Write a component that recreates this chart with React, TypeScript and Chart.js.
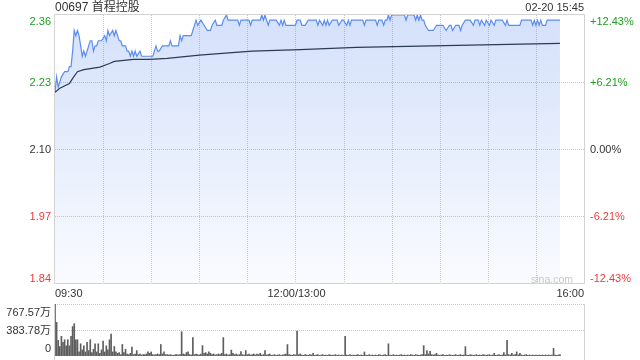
import React, { useEffect, useRef } from 'react';
import { Chart, registerables } from 'chart.js';

Chart.register(...registerables);

const FONT = '"Liberation Sans", Arial, "Noto Sans CJK SC", sans-serif';
const GREEN = '#1f9e1f';
const RED = '#f03a3a';
const DARK = '#333333';
const LINE_BLUE = '#5b8def';
const AVG_NAVY = '#2c3b55';
const GRID = '#cacaca';
const BORDER = '#d2d2d2';

const titleText = '00697 首程控股';
const stampText = '02-20 15:45';
const watermark = 'sina.com';

// trading minutes since 09:30 (09:30-12:00, 13:00-16:00 = 330 minutes)
const gridMinutes = [0, 30, 60, 90, 120, 150, 180, 210, 240, 270, 300, 330];
const timeLabelMinutes = [0, 150, 330];
const timeLabels = ['09:30', '12:00/13:00', '16:00'];

const priceTicks = [2.36, 2.23, 2.10, 1.97, 1.84];
const priceTickLabels = ['2.36', '2.23', '2.10', '1.97', '1.84'];
const pctLabels = ['+12.43%', '+6.21%', '0.00%', '-6.21%', '-12.43%'];

const priceMinutes = [
  0, 1, 2, 3, 4, 6, 8, 9, 10, 11, 12, 13, 14, 15, 16, 17, 18, 19, 21, 22,
  23, 24, 25, 26, 27, 29, 31, 32, 33, 34, 36, 37, 38, 39, 40, 41, 42, 44, 45, 46,
  47, 48, 49, 50, 51, 53, 54, 61, 62, 63, 64, 65, 67, 71, 72, 73, 77, 78, 79, 80,
  85, 86, 88, 89, 91, 93, 95, 97, 98, 100, 101, 104, 105, 107, 108, 114, 115, 116, 121, 122,
  123, 128, 129, 130, 131, 132, 133, 134, 138, 140, 141, 142, 143, 144, 150, 151, 153, 154, 156, 158,
  163, 164, 165, 167, 168, 169, 170, 171, 173, 176, 177, 179, 180, 182, 183, 184, 185, 192, 193, 194,
  200, 201, 202, 204, 205, 206, 207, 208, 209, 210, 218, 219, 220, 224, 225, 226, 227, 228, 229, 230,
  231, 233, 236, 238, 242, 244, 246, 247, 248, 250, 252, 253, 254, 256, 259, 261, 262, 264, 265, 266,
  268, 269, 271, 272, 274, 275, 279, 281, 282, 283, 290, 291, 297, 298, 299, 300, 301, 302, 303, 304,
  306, 307, 315,
];
const prices = [
  2.21, 2.24, 2.22, 2.23, 2.24, 2.25, 2.25, 2.26, 2.26, 2.29, 2.33, 2.32, 2.33, 2.32, 2.30, 2.28, 2.29, 2.28, 2.30, 2.31,
  2.31, 2.29, 2.30, 2.30, 2.31, 2.31, 2.32, 2.31, 2.33, 2.32, 2.33, 2.32, 2.33, 2.32, 2.31, 2.31, 2.30, 2.30, 2.29, 2.29,
  2.28, 2.29, 2.28, 2.29, 2.28, 2.29, 2.28, 2.28, 2.29, 2.30, 2.29, 2.29, 2.30, 2.30, 2.31, 2.30, 2.30, 2.32, 2.31, 2.32,
  2.32, 2.33, 2.35, 2.34, 2.35, 2.34, 2.33, 2.33, 2.34, 2.35, 2.34, 2.34, 2.35, 2.36, 2.35, 2.35, 2.34, 2.35, 2.35, 2.34,
  2.35, 2.35, 2.36, 2.35, 2.36, 2.35, 2.34, 2.35, 2.35, 2.34, 2.35, 2.34, 2.35, 2.34, 2.34, 2.35, 2.35, 2.34, 2.34, 2.35,
  2.35, 2.34, 2.35, 2.34, 2.35, 2.34, 2.35, 2.34, 2.35, 2.35, 2.34, 2.35, 2.35, 2.34, 2.35, 2.34, 2.35, 2.35, 2.34, 2.35,
  2.35, 2.34, 2.35, 2.35, 2.34, 2.35, 2.35, 2.36, 2.35, 2.36, 2.36, 2.35, 2.36, 2.36, 2.35, 2.36, 2.35, 2.36, 2.35, 2.35,
  2.34, 2.33, 2.33, 2.34, 2.34, 2.33, 2.34, 2.34, 2.33, 2.34, 2.34, 2.33, 2.34, 2.35, 2.35, 2.34, 2.35, 2.35, 2.34, 2.35,
  2.34, 2.35, 2.34, 2.35, 2.34, 2.35, 2.35, 2.34, 2.35, 2.34, 2.34, 2.35, 2.35, 2.34, 2.35, 2.34, 2.35, 2.34, 2.35, 2.34,
  2.34, 2.35, 2.35,
];

const avgMinutes = [0, 3, 9, 11, 14, 18, 28, 34, 37, 49, 59, 70, 90, 123, 153, 188, 251, 315];
const avgPrices = [2.21, 2.218, 2.227, 2.237, 2.25, 2.254, 2.259, 2.266, 2.27, 2.274, 2.274, 2.276, 2.282, 2.29, 2.293, 2.297, 2.301, 2.305];

// volume (万股) per trading minute, index = minute since 09:30
const volumes = [
  767.57, 496, 230, 140, 290, 200, 240, 150, 240, 150, 290, 434, 476, 240, 240, 60, 180, 90, 150, 60,
  200, 80, 240, 50, 100, 180, 60, 180, 40, 90, 220, 60, 150, 90, 240, 322, 60, 140, 60, 40,
  50, 20, 170, 50, 100, 30, 20, 40, 130, 20, 30, 80, 20, 30, 15, 20, 20, 30, 60, 40,
  60, 20, 15, 20, 30, 20, 170, 30, 60, 20, 20, 15, 20, 15, 10, 20, 20, 15, 20, 358,
  30, 20, 50, 60, 20, 15, 272, 20, 30, 20, 15, 30, 153, 40, 50, 30, 60, 40, 20, 30,
  15, 20, 30, 20, 40, 272, 20, 30, 15, 20, 87, 40, 20, 30, 15, 20, 66, 20, 15, 80,
  20, 30, 15, 20, 30, 15, 30, 20, 40, 15, 20, 80, 15, 20, 30, 10, 15, 20, 10, 15,
  20, 10, 15, 20, 30, 169, 20, 15, 10, 20, 15, 368, 20, 30, 15, 10, 20, 15, 10, 20,
  15, 40, 10, 15, 20, 10, 15, 20, 10, 15, 10, 20, 15, 10, 15, 20, 10, 15, 10, 15,
  10, 292, 15, 10, 20, 10, 15, 10, 15, 20, 10, 15, 10, 60, 15, 10, 20, 10, 15, 10,
  15, 10, 20, 15, 10, 15, 20, 10, 180, 15, 10, 20, 10, 15, 10, 15, 20, 10, 15, 10,
  15, 10, 20, 15, 10, 20, 15, 10, 15, 20, 153, 20, 80, 30, 70, 20, 15, 20, 40, 15,
  10, 15, 20, 10, 15, 10, 20, 15, 10, 15, 20, 10, 15, 20, 10, 15, 138, 15, 10, 20,
  15, 10, 15, 20, 10, 15, 10, 20, 15, 10, 15, 20, 10, 15, 40, 10, 15, 20, 10, 15,
  50, 15, 230, 20, 15, 40, 15, 20, 60, 15, 40, 15, 10, 15, 20, 10, 15, 10, 15, 10,
  15, 10, 15, 10, 15, 10, 15, 10, 15, 10, 15, 112, 15, 10, 15, 20,
];
const volTicks = [767.57, 383.78, 0];
const volTickLabels = ['767.57万', '383.78万', '0'];

function colorFor(i: number, n: number) {
  const mid = (n - 1) / 2;
  if (i < mid) return GREEN;
  if (i > mid) return RED;
  return DARK;
}

const priceDecor = {
  id: 'priceDecor',
  beforeDatasetsDraw(chart: any) {
    const { ctx, chartArea: a, scales } = chart;
    const x = scales.x;
    const y = scales.y;
    ctx.save();
    ctx.lineWidth = 1;
    ctx.strokeStyle = GRID;
    ctx.setLineDash([1, 1]);
    gridMinutes.forEach((m) => {
      if (m === gridMinutes[0] || m === gridMinutes[gridMinutes.length - 1]) return;
      const px = Math.round(x.getPixelForValue(m)) + 0.5;
      ctx.beginPath();
      ctx.moveTo(px, a.top);
      ctx.lineTo(px, a.bottom);
      ctx.stroke();
    });
    priceTicks.forEach((v, i) => {
      if (i === 0 || i === priceTicks.length - 1) return;
      const py = Math.round(y.getPixelForValue(v)) + 0.5;
      ctx.beginPath();
      ctx.moveTo(a.left, py);
      ctx.lineTo(a.right, py);
      ctx.stroke();
    });
    ctx.setLineDash([]);
    ctx.strokeStyle = BORDER;
    const l = Math.round(a.left) - 0.5;
    const r = Math.round(a.right) + 0.5;
    const t = Math.round(a.top) - 0.5;
    const b = Math.round(a.bottom) + 0.5;
    ctx.beginPath();
    ctx.moveTo(l, t); ctx.lineTo(r, t); ctx.lineTo(r, b); ctx.lineTo(l, b); ctx.closePath();
    ctx.stroke();
    ctx.restore();
  },
  afterDraw(chart: any) {
    const { ctx, chartArea: a, scales } = chart;
    const x = scales.x;
    const y = scales.y;
    ctx.save();
    ctx.font = `11px ${FONT}`;
    priceTicks.forEach((v, i) => {
      const py = y.getPixelForValue(v);
      let base = py + 4;
      if (i === 0) base = a.top + 9.5;
      if (i === priceTicks.length - 1) base = a.bottom - 1;
      ctx.textBaseline = 'alphabetic';
      ctx.fillStyle = colorFor(i, priceTicks.length);
      ctx.textAlign = 'right';
      ctx.fillText(priceTickLabels[i], a.left - 4, base);
      ctx.textAlign = 'left';
      ctx.fillText(pctLabels[i], a.right + 6, base);
    });
    ctx.fillStyle = DARK;
    timeLabelMinutes.forEach((m, i) => {
      const px = x.getPixelForValue(m);
      ctx.textAlign = i === 0 ? 'left' : i === timeLabelMinutes.length - 1 ? 'right' : 'center';
      ctx.fillText(timeLabels[i], px + (i === 1 ? 1 : 0), a.bottom + 14);
    });
    ctx.textAlign = 'right';
    ctx.fillText(stampText, a.right, 11);
    ctx.font = `12px ${FONT}`;
    ctx.textAlign = 'left';
    ctx.fillText(titleText, a.left, 11);
    ctx.font = `10.5px ${FONT}`;
    ctx.fillStyle = '#c8c8c8';
    ctx.textAlign = 'right';
    ctx.fillText(watermark, a.right - 11, a.bottom - 0.5);
    ctx.restore();
  },
};

const volDecor = {
  id: 'volDecor',
  beforeDatasetsDraw(chart: any) {
    const { ctx, chartArea: a, scales } = chart;
    const y = scales.y;
    ctx.save();
    ctx.lineWidth = 1;
    ctx.strokeStyle = GRID;
    ctx.setLineDash([1, 1]);
    volTicks.forEach((v) => {
      if (v === 0) return;
      const py = Math.round(y.getPixelForValue(v)) + 0.5;
      ctx.beginPath();
      ctx.moveTo(a.left, py);
      ctx.lineTo(a.right, py);
      ctx.stroke();
    });
    ctx.setLineDash([]);
    ctx.strokeStyle = BORDER;
    const l = Math.round(a.left) - 0.5;
    const r = Math.round(a.right) + 0.5;
    ctx.beginPath();
    ctx.moveTo(l, a.top); ctx.lineTo(l, chart.height);
    ctx.moveTo(r, a.top); ctx.lineTo(r, chart.height);
    ctx.stroke();
    ctx.restore();
  },
  afterDraw(chart: any) {
    const { ctx, chartArea: a, scales } = chart;
    const y = scales.y;
    ctx.save();
    ctx.font = `11px ${FONT}`;
    ctx.fillStyle = DARK;
    ctx.textAlign = 'right';
    ctx.textBaseline = 'alphabetic';
    volTicks.forEach((v, i) => {
      const py = y.getPixelForValue(v);
      let base = py + 4;
      if (i === 0) base = a.top + 11.5;
      if (i === volTicks.length - 1) base = a.bottom - 4.5;
      ctx.fillText(volTickLabels[i], a.left - 4, base);
    });
    ctx.restore();
  },
};

export default function App() {
  const priceRef = useRef<HTMLCanvasElement>(null);
  const volRef = useRef<HTMLCanvasElement>(null);

  useEffect(() => {
    document.body.style.margin = '0';
    const priceChart = new Chart(priceRef.current as HTMLCanvasElement, {
      type: 'line',
      data: {
        datasets: [
          {
            data: avgMinutes.map((m, i) => ({ x: m, y: avgPrices[i] })),
            borderColor: AVG_NAVY,
            borderWidth: 1.2,
            pointRadius: 0,
            tension: 0,
            fill: false,
          },
          {
            data: priceMinutes.map((m, i) => ({ x: m, y: prices[i] })),
            borderColor: LINE_BLUE,
            borderWidth: 1.2,
            pointRadius: 0,
            tension: 0,
            fill: 'start',
            backgroundColor: (c: any) => {
              const chart = c.chart;
              const a = chart.chartArea;
              if (!a) return 'rgba(70,125,235,0.15)';
              const g = chart.ctx.createLinearGradient(0, a.top, 0, a.bottom);
              g.addColorStop(0, 'rgba(70,125,235,0.23)');
              g.addColorStop(1, 'rgba(70,125,235,0.03)');
              return g;
            },
          },
        ],
      },
      options: {
        responsive: false,
        animation: false,
        devicePixelRatio: 1,
        events: [],
        layout: { padding: { left: 55, right: 56, top: 15, bottom: 17 } },
        plugins: { legend: { display: false }, tooltip: { enabled: false } },
        scales: {
          x: { type: 'linear', min: gridMinutes[0], max: gridMinutes[gridMinutes.length - 1], display: false },
          y: { type: 'linear', min: priceTicks[priceTicks.length - 1], max: priceTicks[0], display: false },
        },
      },
      plugins: [priceDecor],
    } as any);

    const volChart = new Chart(volRef.current as HTMLCanvasElement, {
      type: 'bar',
      data: {
        datasets: [
          {
            data: volumes.map((v, i) => ({ x: i, y: v })),
            backgroundColor: '#5e5e5e',
            barThickness: 1,
            borderWidth: 0,
          },
        ],
      },
      options: {
        responsive: false,
        animation: false,
        devicePixelRatio: 1,
        events: [],
        layout: { padding: { left: 55, right: 56, top: 4, bottom: 4 } },
        plugins: { legend: { display: false }, tooltip: { enabled: false } },
        scales: {
          x: { type: 'linear', offset: false, min: gridMinutes[0], max: gridMinutes[gridMinutes.length - 1], display: false },
          y: { type: 'linear', min: 0, max: volTicks[0], display: false },
        },
      },
      plugins: [volDecor],
    } as any);

    return () => {
      priceChart.destroy();
      volChart.destroy();
    };
  }, []);

  return (
    <div style={{ position: 'absolute', left: 0, top: 0, width: 640, height: 360, background: '#ffffff' }}>
      <canvas ref={priceRef} width={640} height={300} style={{ position: 'absolute', left: 0, top: 0 }} />
      <canvas ref={volRef} width={640} height={60} style={{ position: 'absolute', left: 0, top: 300 }} />
    </div>
  );
}
